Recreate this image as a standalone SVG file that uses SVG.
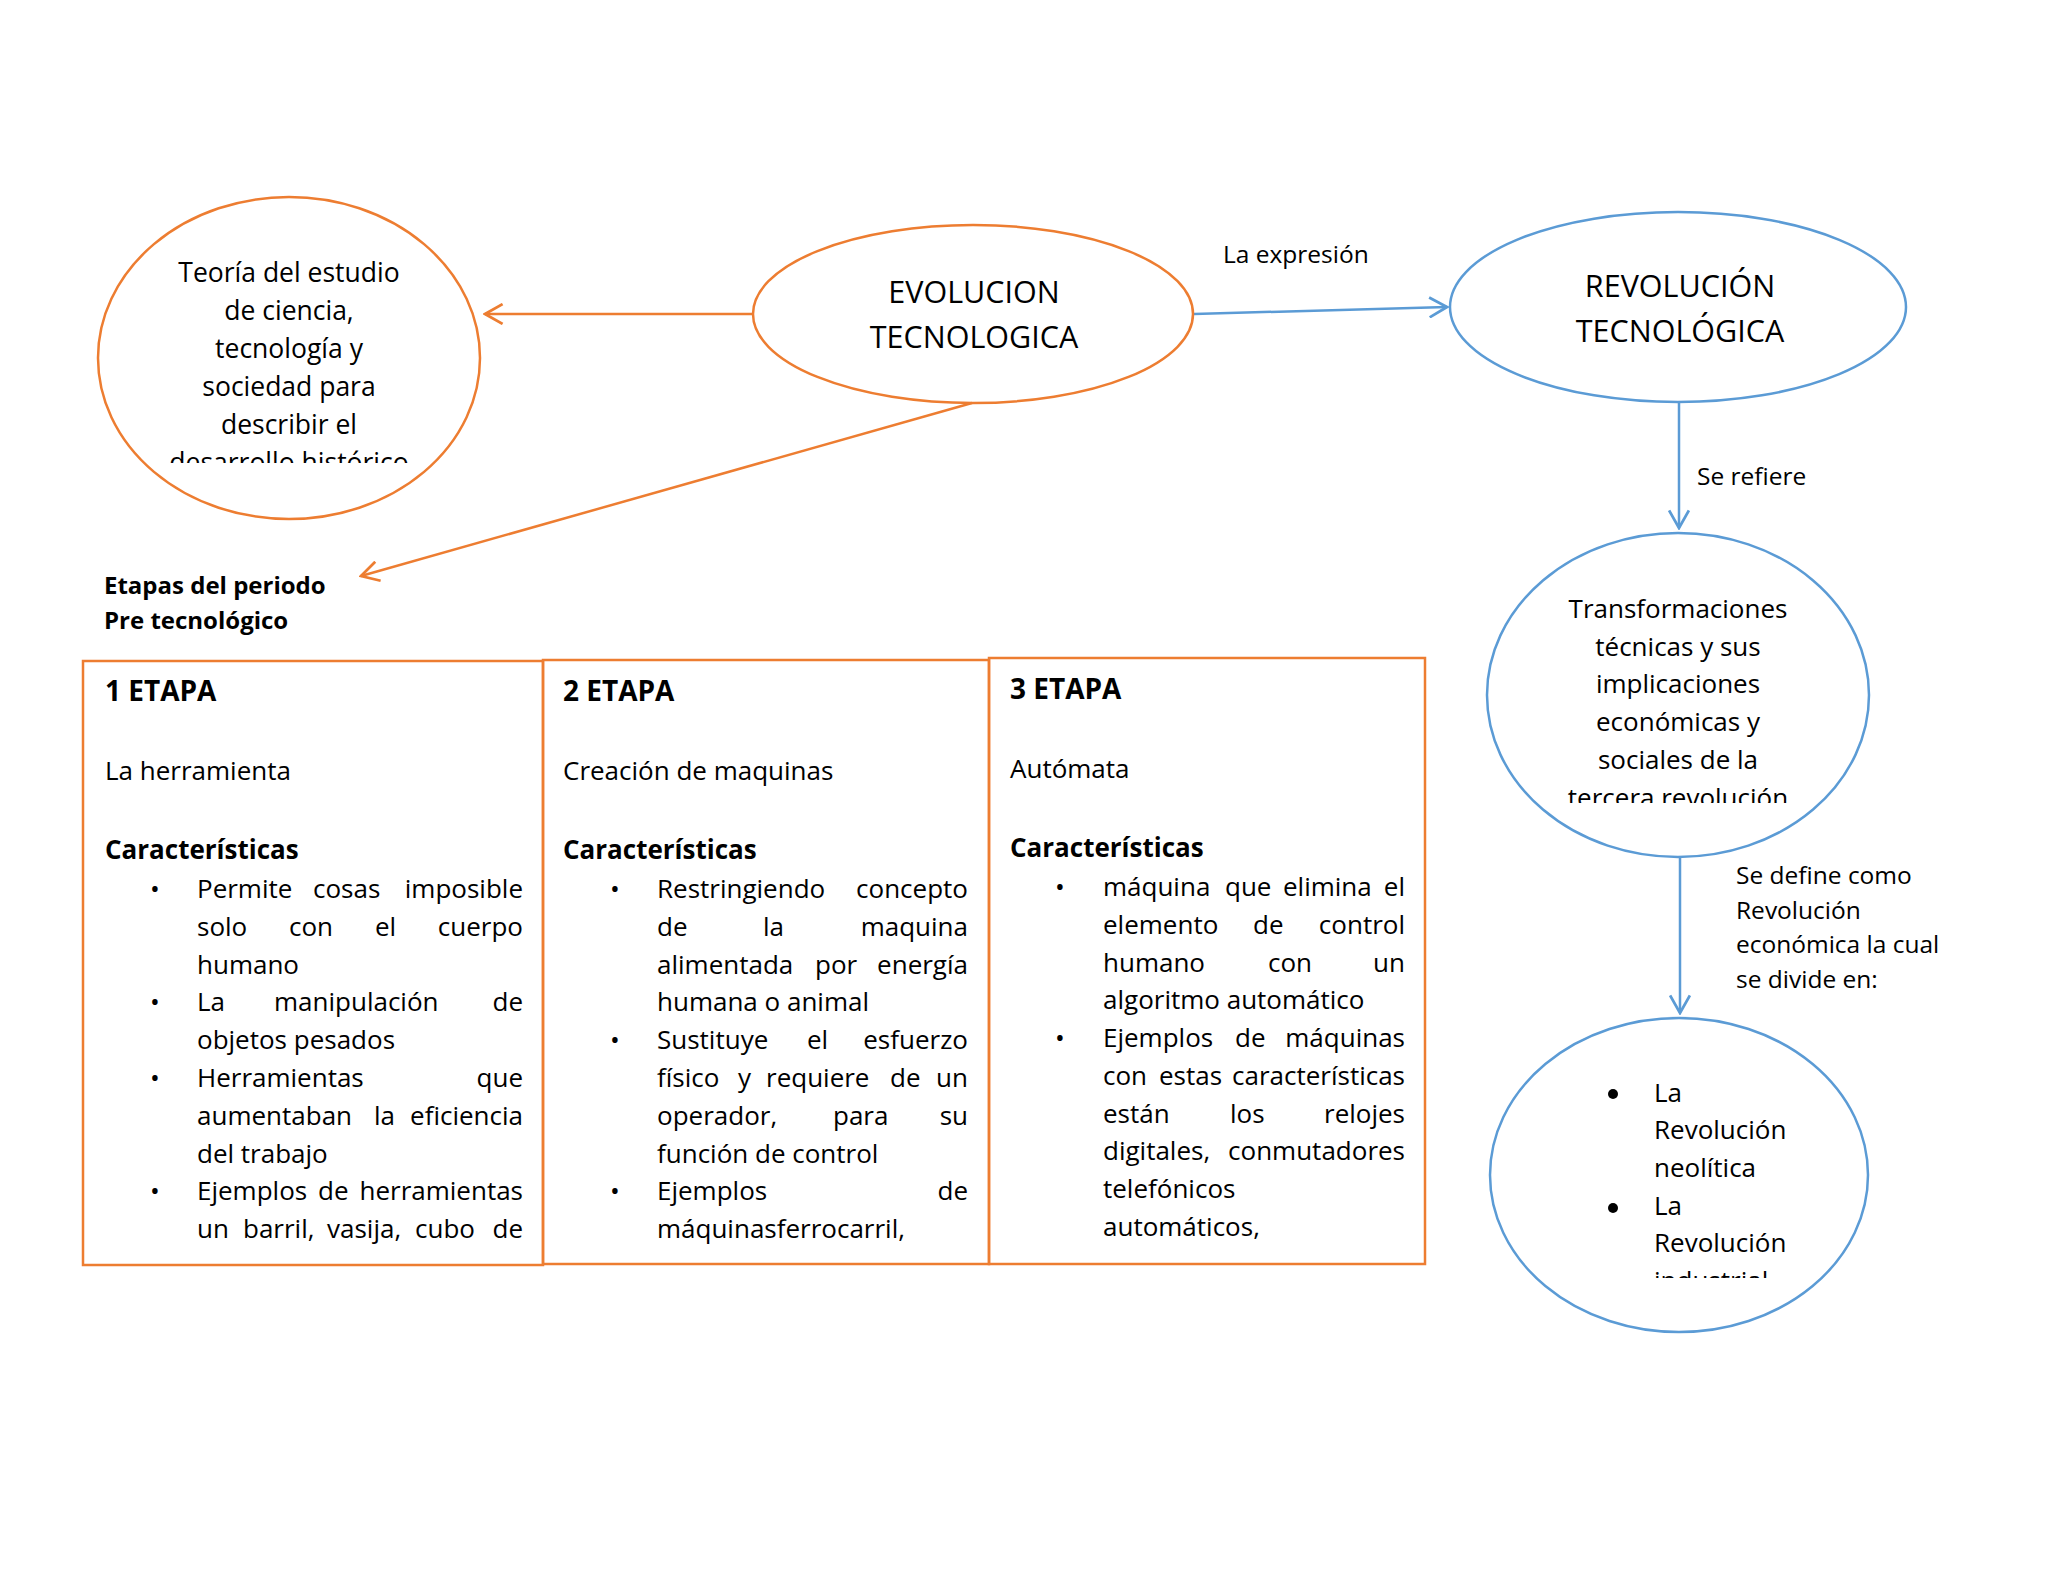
<svg xmlns="http://www.w3.org/2000/svg" width="2048" height="1582" viewBox="0 0 2048 1582">
<style>
.t{font-family:"Open Sans","Noto Sans","Liberation Sans",sans-serif;font-size:26px;fill:#000}
.b{font-weight:bold}
.c{text-anchor:middle}
.e{text-anchor:end}
.big{font-size:30.5px}
.lbl{font-size:24.5px}
.sub{font-size:24px}
.hd{font-size:28px}
.el{font-size:26.5px}
.or{fill:none;stroke:#ED7D31;stroke-width:2.5}
.bl{fill:none;stroke:#5B9BD5;stroke-width:2.5}
</style>
<defs>
<marker id="ao" markerUnits="userSpaceOnUse" markerWidth="22" markerHeight="22" viewBox="0 0 20 20" refX="18" refY="10" orient="auto">
<path d="M2,1 L18,10 L2,19" fill="none" stroke="#ED7D31" stroke-width="2.5"/>
</marker>
<marker id="ab" markerUnits="userSpaceOnUse" markerWidth="22" markerHeight="22" viewBox="0 0 20 20" refX="18" refY="10" orient="auto">
<path d="M2,1 L18,10 L2,19" fill="none" stroke="#5B9BD5" stroke-width="2.5"/>
</marker>
<clipPath id="c1"><rect x="90" y="230" width="400" height="233"/></clipPath>
<clipPath id="c2"><rect x="1480" y="580" width="400" height="223"/></clipPath>
<clipPath id="c3"><rect x="1480" y="1060" width="400" height="218"/></clipPath>
</defs>
<rect x="0" y="0" width="2048" height="1582" fill="#fff"/>

<g id="connectors">
<line class="or" x1="753" y1="314" x2="485" y2="314" marker-end="url(#ao)"/>
<line class="or" x1="972" y1="403" x2="361" y2="576" marker-end="url(#ao)"/>
<line class="bl" x1="1194" y1="314" x2="1447" y2="307" marker-end="url(#ab)"/>
<line class="bl" x1="1679" y1="402" x2="1679" y2="528" marker-end="url(#ab)"/>
<line class="bl" x1="1680" y1="858" x2="1680" y2="1013" marker-end="url(#ab)"/>
<text class="t lbl" x="1223" y="263">La expresión</text>
<text class="t lbl" x="1697" y="485">Se refiere</text>
<text class="t lbl" x="1736" y="884">Se define como</text>
<text class="t lbl" x="1736" y="919">Revolución</text>
<text class="t lbl" x="1736" y="953">económica la cual</text>
<text class="t lbl" x="1736" y="988">se divide en:</text>
</g>

<g id="node-teoria">
<ellipse class="or" cx="289" cy="358" rx="191" ry="161"/>
<g clip-path="url(#c1)">
<text class="t c el" x="289" y="282">Teoría del estudio</text>
<text class="t c el" x="289" y="320">de ciencia,</text>
<text class="t c el" x="289" y="358">tecnología y</text>
<text class="t c el" x="289" y="396">sociedad para</text>
<text class="t c el" x="289" y="434">describir el</text>
<text class="t c el" x="289" y="472">desarrollo histórico</text>
</g>
</g>

<g id="node-evolucion">
<ellipse class="or" cx="973" cy="314" rx="220" ry="89"/>
<text class="t c big" x="974" y="303">EVOLUCION</text>
<text class="t c big" x="974" y="348">TECNOLOGICA</text>
</g>

<g id="node-revolucion">
<ellipse class="bl" cx="1678" cy="307" rx="228" ry="95"/>
<text class="t c big" x="1680" y="297">REVOLUCIÓN</text>
<text class="t c big" x="1680" y="342">TECNOLÓGICA</text>
</g>

<g id="node-transformaciones">
<ellipse class="bl" cx="1678" cy="695" rx="191" ry="162"/>
<g clip-path="url(#c2)">
<text class="t c" x="1678" y="618">Transformaciones</text>
<text class="t c" x="1678" y="656">técnicas y sus</text>
<text class="t c" x="1678" y="693">implicaciones</text>
<text class="t c" x="1678" y="731">económicas y</text>
<text class="t c" x="1678" y="769">sociales de la</text>
<text class="t c" x="1678" y="807">tercera revolución</text>
</g>
</g>

<g id="node-tipos">
<ellipse class="bl" cx="1679" cy="1175" rx="189" ry="157"/>
<circle cx="1613" cy="1094" r="5" fill="#000"/>
<circle cx="1613" cy="1208" r="5" fill="#000"/>
<g clip-path="url(#c3)">
<text class="t" x="1654" y="1102">La</text>
<text class="t" x="1654" y="1139">Revolución</text>
<text class="t" x="1654" y="1177">neolítica</text>
<text class="t" x="1654" y="1215">La</text>
<text class="t" x="1654" y="1252">Revolución</text>
<text class="t" x="1654" y="1290">industrial</text>
</g>
</g>

<g id="label-etapas">
<text class="t b sub" x="104" y="594">Etapas del periodo</text>
<text class="t b sub" x="104" y="629">Pre tecnológico</text>
</g>

<g id="node-etapa1">
<rect class="or" x="83" y="661" width="460" height="604"/>
<text class="t b hd" x="105" y="701">1 ETAPA</text>
<text class="t" x="105" y="780">La herramienta</text>
<text class="t b" x="105" y="859">Características</text>
<text class="t c" x="155" y="898">•</text>
<text class="t" x="197" y="898">Permite</text><text class="t" x="313" y="898">cosas</text><text class="t e" x="523" y="898">imposible</text>
<text class="t" x="197" y="936">solo</text><text class="t" x="289" y="936">con</text><text class="t" x="375" y="936">el</text><text class="t e" x="523" y="936">cuerpo</text>
<text class="t" x="197" y="974">humano</text>
<text class="t c" x="155" y="1011">•</text>
<text class="t" x="197" y="1011">La</text><text class="t" x="274" y="1011">manipulación</text><text class="t e" x="523" y="1011">de</text>
<text class="t" x="197" y="1049">objetos pesados</text>
<text class="t c" x="155" y="1087">•</text>
<text class="t" x="197" y="1087">Herramientas</text><text class="t e" x="523" y="1087">que</text>
<text class="t" x="197" y="1125">aumentaban</text><text class="t" x="374" y="1125">la</text><text class="t e" x="523" y="1125">eficiencia</text>
<text class="t" x="197" y="1163">del trabajo</text>
<text class="t c" x="155" y="1200">•</text>
<text class="t" x="197" y="1200">Ejemplos</text><text class="t" x="318" y="1200">de</text><text class="t e" x="523" y="1200">herramientas</text>
<text class="t" x="197" y="1238">un</text><text class="t" x="243" y="1238">barril,</text><text class="t" x="327" y="1238">vasija,</text><text class="t" x="415" y="1238">cubo</text><text class="t e" x="523" y="1238">de</text>
</g>

<g id="node-etapa2">
<rect class="or" x="543" y="660" width="446" height="604"/>
<text class="t b hd" x="563" y="701">2 ETAPA</text>
<text class="t" x="563" y="780">Creación de maquinas</text>
<text class="t b" x="563" y="859">Características</text>
<text class="t c" x="615" y="898">•</text>
<text class="t" x="657" y="898">Restringiendo</text><text class="t e" x="968" y="898">concepto</text>
<text class="t" x="657" y="936">de</text><text class="t" x="763" y="936">la</text><text class="t e" x="968" y="936">maquina</text>
<text class="t" x="657" y="974">alimentada</text><text class="t" x="815" y="974">por</text><text class="t e" x="968" y="974">energía</text>
<text class="t" x="657" y="1011">humana o animal</text>
<text class="t c" x="615" y="1049">•</text>
<text class="t" x="657" y="1049">Sustituye</text><text class="t" x="807" y="1049">el</text><text class="t e" x="968" y="1049">esfuerzo</text>
<text class="t" x="657" y="1087">físico</text><text class="t" x="738" y="1087">y</text><text class="t" x="766" y="1087">requiere</text><text class="t" x="890" y="1087">de</text><text class="t e" x="968" y="1087">un</text>
<text class="t" x="657" y="1125">operador,</text><text class="t" x="833" y="1125">para</text><text class="t e" x="968" y="1125">su</text>
<text class="t" x="657" y="1163">función de control</text>
<text class="t c" x="615" y="1200">•</text>
<text class="t" x="657" y="1200">Ejemplos</text><text class="t e" x="968" y="1200">de</text>
<text class="t" x="657" y="1238">máquinasferrocarril,</text>
</g>

<g id="node-etapa3">
<rect class="or" x="989" y="658" width="436" height="606"/>
<text class="t b hd" x="1010" y="699">3 ETAPA</text>
<text class="t" x="1010" y="778">Autómata</text>
<text class="t b" x="1010" y="857">Características</text>
<text class="t c" x="1060" y="896">•</text>
<text class="t" x="1103" y="896">máquina</text><text class="t" x="1225" y="896">que</text><text class="t" x="1283" y="896">elimina</text><text class="t e" x="1405" y="896">el</text>
<text class="t" x="1103" y="934">elemento</text><text class="t" x="1253" y="934">de</text><text class="t e" x="1405" y="934">control</text>
<text class="t" x="1103" y="972">humano</text><text class="t" x="1268" y="972">con</text><text class="t e" x="1405" y="972">un</text>
<text class="t" x="1103" y="1009">algoritmo automático</text>
<text class="t c" x="1060" y="1047">•</text>
<text class="t" x="1103" y="1047">Ejemplos</text><text class="t" x="1235" y="1047">de</text><text class="t e" x="1405" y="1047">máquinas</text>
<text class="t" x="1103" y="1085">con</text><text class="t" x="1159" y="1085">estas</text><text class="t e" x="1405" y="1085">características</text>
<text class="t" x="1103" y="1123">están</text><text class="t" x="1230" y="1123">los</text><text class="t e" x="1405" y="1123">relojes</text>
<text class="t" x="1103" y="1160">digitales,</text><text class="t e" x="1405" y="1160">conmutadores</text>
<text class="t" x="1103" y="1198">telefónicos</text>
<text class="t" x="1103" y="1236">automáticos,</text>
</g>
</svg>
